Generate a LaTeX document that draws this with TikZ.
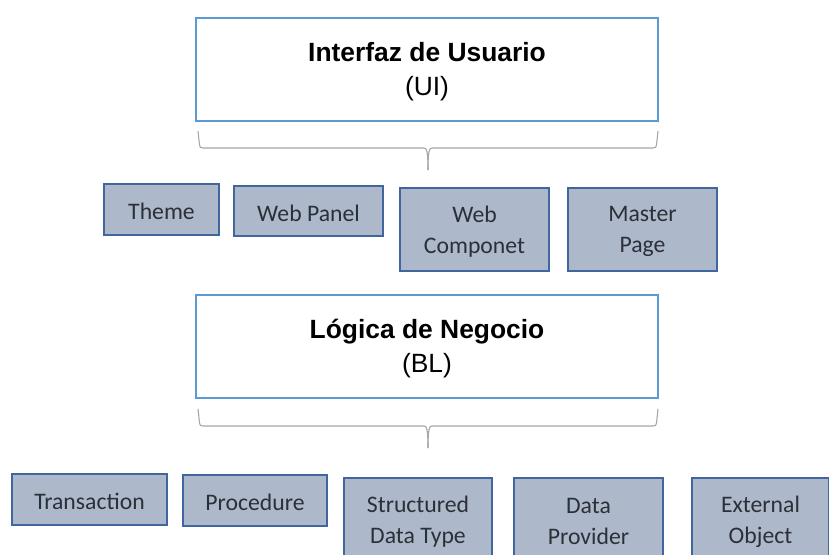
\documentclass[tikz,border=0pt]{standalone}
\usepackage{fontspec}
\setmainfont{Liberation Sans}
\newfontfamily\carl{Carlito}
\definecolor{ubl}{HTML}{5B9BD5}
\definecolor{ifill}{HTML}{ADB9CA}
\definecolor{ibd}{HTML}{41659F}
\definecolor{brk}{HTML}{A6A6A6}
\definecolor{itxt}{HTML}{2B2F38}
\tikzset{
 px/.style={x=1pt,y=-1pt},
 bigbox/.style={draw=ubl,line width=1.6pt,fill=white,inner sep=0pt,outer sep=0pt},
 bigtext/.style={inner sep=0pt,align=center,yshift=-2pt,font=\fontsize{26.4}{34.5}\selectfont},
 itembox/.style={draw=ibd,line width=1.2pt,fill=ifill,inner sep=0pt,outer sep=0pt},
 itemtext/.style={inner sep=0pt,align=center,yshift=-2.2pt,text=itxt,font=\carl\fontsize{23.7}{31}\selectfont},
 brk/.style={draw=brk,line width=1.1pt},
}
% style prefix, name, x1, y1, x2, y2, text
\newcommand{\bx}[7]{\node[#1box,minimum width=#5pt-#3pt,minimum height=#6pt-#4pt,anchor=north west] (#2) at (#3,#4) {};
 \node[#1text] (#2t) at (#2.center) {#7};}
\begin{document}
\begin{tikzpicture}[px]
\useasboundingbox (0,0) rectangle (829,554);
\begin{scope}
\clip (0,0) rectangle (829,554);
\bx{big}{ui}{196}{18}{658}{121}{\textbf{Interfaz de Usuario}\\(UI)}
\bx{big}{bl}{196}{295}{658}{398}{\textbf{Lógica de Negocio}\\(BL)}
\bx{item}{theme}{104}{184}{219}{235}{Theme}
\bx{item}{webpanel}{234}{186}{383}{236}{Web Panel}
\bx{item}{webcomp}{400}{188}{549}{271}{Web\\Componet}
\bx{item}{master}{568}{188}{717}{271}{Master\\Page}
\bx{item}{trans}{12}{474}{167}{525}{Transaction}
\bx{item}{proc}{183}{475}{327}{526}{Procedure}
\bx{item}{sdt}{344}{478}{492}{561}{Structured\\Data Type}
\bx{item}{dp}{514}{478}{663}{561}{Data\\Provider}
\bx{item}{eo}{692}{478}{829}{561}{External\\Object}
\coordinate (b1) at (428,170);
\coordinate (b2) at (428,448);
\draw[brk] (198,131) -- (199.5,145) .. controls (199.8,147.5) and (200.5,148) .. (203,148) -- (424,148) .. controls (426.5,148) and (428,150) .. (b1);
\draw[brk] (658,131) -- (656.5,145) .. controls (656.2,147.5) and (655.5,148) .. (653,148) -- (432,148) .. controls (429.5,148) and (428,150) .. (b1);
\draw[brk] (198,409) -- (199.5,423) .. controls (199.8,425.5) and (200.5,426) .. (203,426) -- (424,426) .. controls (426.5,426) and (428,428) .. (b2);
\draw[brk] (658,409) -- (656.5,423) .. controls (656.2,425.5) and (655.5,426) .. (653,426) -- (432,426) .. controls (429.5,426) and (428,428) .. (b2);
\end{scope}
\end{tikzpicture}
\end{document}
